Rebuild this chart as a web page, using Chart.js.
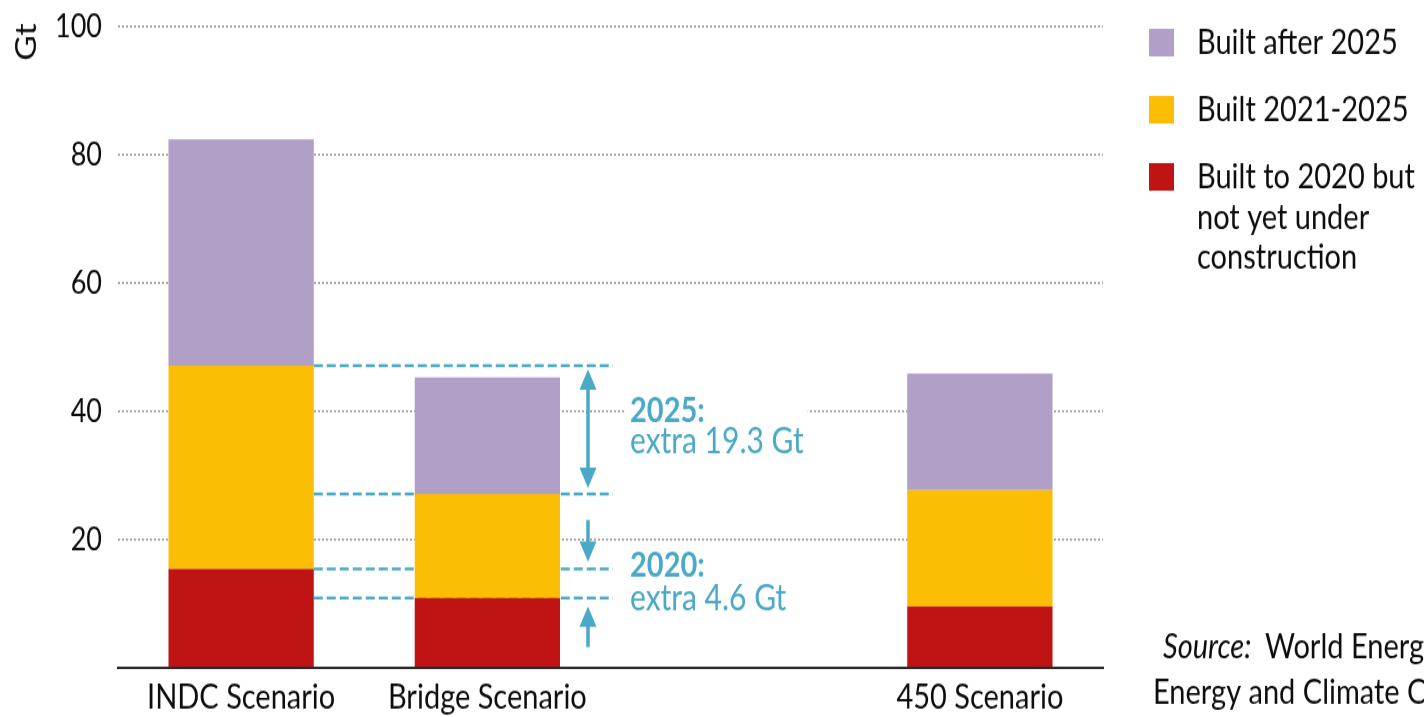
<!DOCTYPE html>
<html>
<head>
<meta charset="utf-8">
<script src="https://cdn.jsdelivr.net/npm/chart.js@4"></script>
<style>
  html, body { margin: 0; padding: 0; background: #fff; overflow: hidden; }
  #wrap { width: 1424px; height: 717px; overflow: hidden; }
  /* the reference is a vertically stretched picture */
  #gapChart { transform: scaleY(1.199); transform-origin: 0 0; }
</style>
</head>
<body>
<div id="wrap"><canvas id="gapChart" width="1424" height="598"></canvas></div>
<script>
// Дані
const categories = ['INDC Scenario', 'Bridge Scenario', '', '450 Scenario'];
const builtTo2020 = [15.4, 10.9, null, 9.6];
const built2021to2025 = [31.7, 16.2, null, 18.1];
const builtAfter2025 = [35.3, 18.2, null, 18.2];
const seriesNames = ['Built to 2020 but not yet under construction', 'Built 2021-2025', 'Built after 2025'];
const seriesColors = ['#c01414', '#fbbe04', '#b09fc6'];
const yTicks = [20, 40, 60, 80, 100];
const gapNotes = [['2025:', 'extra 19.3 Gt'], ['2020:', 'extra 4.6 Gt']];
const sourceLines = ['World Energy Outlook Special Report:', 'Energy and Climate Change'];

const teal = '#4aa9c5';
const ink = '#0d0d0d';
Chart.defaults.font.family = 'Lato';

function arrowHead(ctx, x, y, dir) {
  // dir: -1 points up, 1 points down, tip at y
  ctx.beginPath();
  ctx.moveTo(x, y);
  ctx.lineTo(x - 8.5, y - dir * 17);
  ctx.lineTo(x + 8.5, y - dir * 17);
  ctx.closePath();
  ctx.fill();
}

function shaft(ctx, x, y1, y2) {
  ctx.beginPath();
  ctx.moveTo(x, y1);
  ctx.lineTo(x, y2);
  ctx.stroke();
}

function wrapText(ctx, text, maxW) {
  const words = text.split(' ');
  const lines = [];
  let cur = '';
  words.forEach(w => {
    const t = cur ? cur + ' ' + w : w;
    if (cur && ctx.measureText(t).width > maxW) {
      lines.push(cur);
      cur = w;
    } else cur = t;
  });
  lines.push(cur);
  return lines;
}

// стрілки та пунктир між сценаріями
const gapPlugin = {
  id: 'gapPlugin',
  beforeDatasetsDraw(chart) {
    const ctx = chart.ctx;
    const red = chart.getDatasetMeta(0).data;
    const yel = chart.getDatasetMeta(1).data;
    const x0 = red[0].x + red[0].width / 2;
    const x1 = 613;
    const ax = 588;
    const levels = [yel[0].y, yel[1].y, red[0].y, red[1].y];

    ctx.save();
    ctx.strokeStyle = teal;
    ctx.lineWidth = 2.5;
    ctx.setLineDash([9, 4]);
    levels.forEach(y => {
      ctx.beginPath();
      ctx.moveTo(x0, y);
      ctx.lineTo(x1, y);
      ctx.stroke();
    });
    ctx.setLineDash([]);
    ctx.lineWidth = 3.5;
    ctx.fillStyle = teal;

    let t = levels[0] + 3, b = levels[1] - 5;
    shaft(ctx, ax, t + 12, b - 12);
    arrowHead(ctx, ax, t, -1);
    arrowHead(ctx, ax, b, 1);

    b = levels[2] - 6;
    shaft(ctx, ax, b - 35, b - 12);
    arrowHead(ctx, ax, b, 1);

    t = levels[3] + 7;
    shaft(ctx, ax, t + 12, t + 34);
    arrowHead(ctx, ax, t, -1);

    // підписи
    const tx = 630;
    const rows = [[352, 378], [481, 509]];
    gapNotes.forEach((n, i) => {
      ctx.font = 'bold 29px Lato';
      const w0 = ctx.measureText(n[0]).width;
      ctx.font = '30px Lato';
      const w1 = ctx.measureText(n[1]).width;
      ctx.fillStyle = '#fff';
      ctx.fillRect(tx - 4, rows[i][0] - 24, Math.max(w0, w1) + 8, rows[i][1] - rows[i][0] + 31);
      ctx.fillStyle = teal;
      ctx.textAlign = 'left';
      ctx.textBaseline = 'alphabetic';
      ctx.font = 'bold 29px Lato';
      ctx.fillText(n[0], tx, rows[i][0]);
      ctx.font = '30px Lato';
      ctx.fillText(n[1], tx, rows[i][1]);
    });
    ctx.restore();
  },
  afterDraw(chart) {
    const ctx = chart.ctx;
    ctx.save();
    ctx.fillStyle = ink;
    ctx.textBaseline = 'middle';

    // Gt
    ctx.save();
    ctx.translate(27, 35);
    ctx.rotate(-Math.PI / 2);
    ctx.textAlign = 'center';
    ctx.font = '29px Lato';
    ctx.fillText('Gt', 0, 0);
    ctx.restore();

    // легенда
    ctx.textAlign = 'left';
    ctx.font = '29px Lato';
    [2, 1, 0].forEach((d, i) => {
      const top = 24 + i * 56;
      ctx.fillStyle = seriesColors[d];
      ctx.fillRect(1149, top, 25, 23);
      ctx.fillStyle = ink;
      wrapText(ctx, seriesNames[d], 238).forEach((ln, j) => {
        ctx.fillText(ln, 1197, top + 12 + j * 33.4);
      });
    });

    // джерело
    ctx.font = 'italic 29px Lato';
    ctx.fillText('Source:', 1163, 540);
    const sw = ctx.measureText('Source:  ').width;
    ctx.font = '29px Lato';
    ctx.fillText(sourceLines[0], 1163 + sw, 540);
    ctx.fillText(sourceLines[1], 1153, 578);
    ctx.restore();
  }
};

const chart = new Chart(document.getElementById('gapChart').getContext('2d'), {
  type: 'bar',
  data: {
    labels: categories,
    datasets: [
      { label: seriesNames[0], data: builtTo2020, backgroundColor: seriesColors[0] },
      { label: seriesNames[1], data: built2021to2025, backgroundColor: seriesColors[1] },
      { label: seriesNames[2], data: builtAfter2025, backgroundColor: seriesColors[2] }
    ]
  },
  options: {
    responsive: false,
    animation: false,
    layout: { padding: { left: 0, right: 321, top: 22, bottom: 0 } },
    datasets: { bar: { barPercentage: 0.59, categoryPercentage: 1 } },
    plugins: {
      legend: { display: false },
      tooltip: { enabled: false }
    },
    scales: {
      x: {
        stacked: true,
        grid: { display: false, drawTicks: false },
        border: { display: true, color: '#2b2b2b', width: 2 },
        ticks: { color: ink, font: { size: 29 }, padding: 7, maxRotation: 0, autoSkip: false },
        afterFit: s => { s.height = 41; }
      },
      y: {
        stacked: true,
        min: 0,
        max: 100,
        afterFit: s => {
          s.width = 118;
          s.paddingTop = 0;
          s.paddingBottom = 0;
        },
        border: { display: false, dash: [2, 2] },
        grid: {
          drawTicks: false,
          lineWidth: 2,
          color: c => (c.tick && c.tick.value === 0) ? 'rgba(0,0,0,0)' : '#ababab'
        },
        ticks: {
          stepSize: 20,
          padding: 16,
          color: ink,
          font: { size: 27 },
          callback: v => yTicks.includes(v) ? String(v) : ''
        }
      }
    }
  },
  plugins: [gapPlugin]
});
</script>
</body>
</html>
